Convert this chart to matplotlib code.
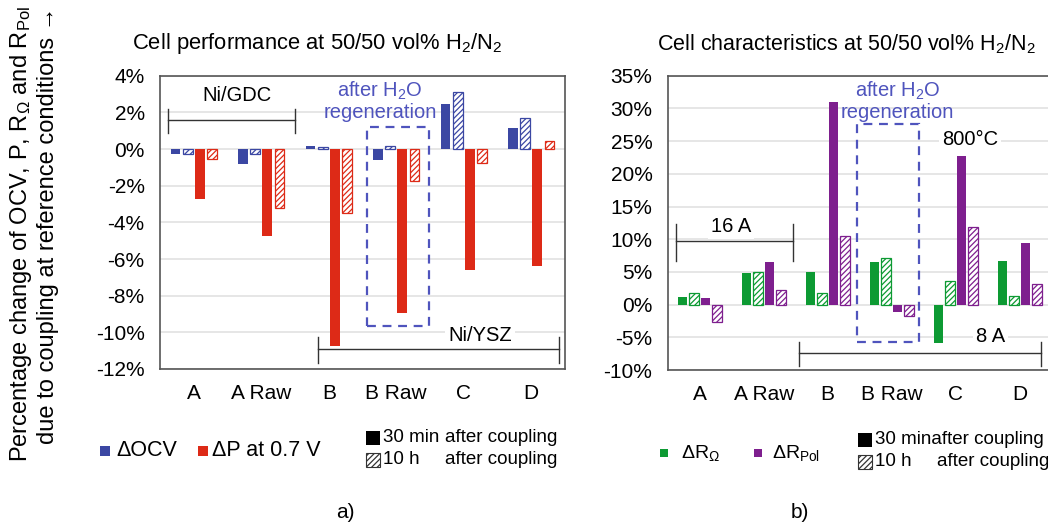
import matplotlib
matplotlib.use("Agg")
import matplotlib.pyplot as plt
from matplotlib.patches import Rectangle
import numpy as np

plt.rcParams['font.family'] = ['Liberation Sans', 'DejaVu Sans']
plt.rcParams['mathtext.fontset'] = 'custom'
plt.rcParams['mathtext.rm'] = 'Liberation Sans'
plt.rcParams['mathtext.it'] = 'Liberation Sans:italic'
plt.rcParams['mathtext.bf'] = 'Liberation Sans:bold'
plt.rcParams['hatch.linewidth'] = 0.9

# ---------------- data ----------------
categories = ["A", "A Raw", "B", "B Raw", "C", "D"]

# a) Cell performance (%)
ocv_30min = [-0.27, -0.84, 0.15, -0.58, 2.45, 1.13]
ocv_10h = [-0.27, -0.27, 0.10, 0.18, 3.09, 1.69]
p_30min = [-2.70, -4.73, -10.76, -8.95, -6.62, -6.38]
p_10h = [-0.55, -3.24, -3.49, -1.75, -0.78, 0.45]

# b) Cell characteristics (%)
rohm_30min = [1.17, 4.85, 5.00, 6.48, -5.87, 6.73]
rohm_10h = [1.80, 5.00, 1.80, 7.20, 3.62, 1.28]
rpol_30min = [1.07, 6.58, 31.0, -1.12, 22.65, 9.44]
rpol_10h = [-2.60, 2.30, 10.56, -1.79, 11.84, 3.20]

left_yticks = [4, 2, 0, -2, -4, -6, -8, -10, -12]
right_yticks = [35, 30, 25, 20, 15, 10, 5, 0, -5, -10]

BLUE = "#3b47a3"
RED = "#dd2a17"
GREEN = "#0d9a33"
PURPLE = "#7e1f8e"
ANNOT = "#4f54bd"
GRID = "#e2e2e2"
SPINE = "#555555"

W, H = 1048, 523
fig = plt.figure(figsize=(W / 100, H / 100), dpi=100)


def fx(px):
    return px / W


def fy(py):
    return 1 - py / H


def make_axes(l, t, r, b):
    return fig.add_axes([fx(l), fy(b), fx(r) - fx(l), fy(t) - fy(b)])


axL = make_axes(160, 75.7, 565, 369)
axR = make_axes(667.7, 75.7, 1051.7, 370)

x = np.arange(len(categories))
offsets = [-0.27, -0.09, 0.09, 0.27]
bw = 0.147


def draw_group(ax, series, colors):
    for (vals, hatched), off, col in zip(series, offsets, colors):
        if hatched:
            ax.bar(x + off, vals, bw, facecolor="white", edgecolor=col,
                   hatch="//////", linewidth=0.9, zorder=3)
        else:
            ax.bar(x + off, vals, bw, color=col, linewidth=0, zorder=3)


draw_group(axL, [(ocv_30min, False), (ocv_10h, True), (p_30min, False), (p_10h, True)],
           [BLUE, BLUE, RED, RED])
draw_group(axR, [(rohm_30min, False), (rohm_10h, True), (rpol_30min, False), (rpol_10h, True)],
           [GREEN, GREEN, PURPLE, PURPLE])

for ax, yt in ((axL, left_yticks), (axR, right_yticks)):
    ax.set_xlim(-0.5, 5.5)
    ax.set_ylim(min(yt), max(yt))
    ax.set_yticks(yt)
    ax.set_yticklabels([f"{v}%" for v in yt])
    ax.set_xticks(x)
    ax.set_xticklabels(categories)
    ax.tick_params(length=0, labelsize=15, pad=11)
    ax.yaxis.grid(True, color=GRID, linewidth=1.2, zorder=0)
    ax.set_axisbelow(True)
    for s in ax.spines.values():
        s.set_color(SPINE)
        s.set_linewidth(1.2)

AF = 14.5
# ---------------- annotations (a) ----------------
axL.text(0.64, 2.91, "Ni/GDC", ha="center", va="center", fontsize=AF, zorder=5)
axL.plot([-0.38, 1.5], [1.56, 1.56], color="#333333", lw=1, zorder=5)
for xv in (-0.38, 1.5):
    axL.plot([xv, xv], [2.2, 0.89], color="#333333", lw=1, zorder=5)
axL.text(2.76, 3.19, "after H$_2$O", ha="center", va="center", fontsize=AF, color=ANNOT, zorder=5)
axL.text(2.76, 1.98, "regeneration", ha="center", va="center", fontsize=AF, color=ANNOT, zorder=5)
axL.add_patch(Rectangle((2.57, -9.66), 3.49 - 2.57, 1.22 + 9.66, fill=False,
                        edgecolor=ANNOT, lw=1.6, ls=(0, (4, 3)), zorder=6))
axL.text(4.24, -10.15, "Ni/YSZ", ha="center", va="center", fontsize=AF, zorder=5,
         bbox=dict(facecolor="white", edgecolor="none", pad=2))
axL.plot([1.84, 5.41], [-10.91, -10.91], color="#333333", lw=1, zorder=5, clip_on=False)
for xv in (1.84, 5.41):
    axL.plot([xv, xv], [-10.26, -11.68], color="#333333", lw=1, zorder=5, clip_on=False)

# ---------------- annotations (b) ----------------
axR.text(0.49, 11.97, "16 A", ha="center", va="center", fontsize=AF, zorder=5,
         bbox=dict(facecolor="white", edgecolor="none", pad=2))
axR.plot([-0.37, 1.46], [9.68, 9.68], color="#333333", lw=1, zorder=5)
for xv in (-0.37, 1.46):
    axR.plot([xv, xv], [12.36, 6.6], color="#333333", lw=1, zorder=5)
axR.text(3.09, 32.7, "after H$_2$O", ha="center", va="center", fontsize=AF, color=ANNOT, zorder=5)
axR.text(3.09, 29.4, "regeneration", ha="center", va="center", fontsize=AF, color=ANNOT, zorder=5)
axR.add_patch(Rectangle((2.46, -5.7), 3.43 - 2.46, 27.68 + 5.7, fill=False,
                        edgecolor=ANNOT, lw=1.6, ls=(0, (4, 3)), zorder=6))
axR.text(4.22, 25.2, "800°C", ha="center", va="center", fontsize=AF, zorder=5,
         bbox=dict(facecolor="white", edgecolor="none", pad=2))
axR.text(4.54, -4.85, "8 A", ha="center", va="center", fontsize=AF, zorder=5,
         bbox=dict(facecolor="white", edgecolor="none", pad=2))
axR.plot([1.55, 5.34], [-7.4, -7.4], color="#333333", lw=1, zorder=5)
for xv in (1.55, 5.34):
    axR.plot([xv, xv], [-5.76, -9.33], color="#333333", lw=1, zorder=5)

# ---------------- titles ----------------
fig.text(fx(317), fy(44), "Cell performance at 50/50 vol% H$_2$/N$_2$", ha="center", va="center", fontsize=15.8)
fig.text(fx(846), fy(44), "Cell characteristics at 50/50 vol% H$_2$/N$_2$", ha="center", va="center", fontsize=15.5)

# ---------------- y label ----------------
fig.text(fx(21), fy(234), r"Percentage change of OCV, P, R$_\Omega$ and R$_{\mathrm{Pol}}$",
         rotation=90, ha="center", va="center", fontsize=17)
fig.text(fx(48), fy(225), "due to coupling at reference conditions →",
         rotation=90, ha="center", va="center", fontsize=17)


# ---------------- legends ----------------
def square(cx, cy, size, color, hatched=False):
    r = Rectangle((fx(cx - size / 2), fy(cy + size / 2)), size / W, size / H,
                  transform=fig.transFigure,
                  facecolor="white" if hatched else color,
                  edgecolor=color, hatch="//////" if hatched else None,
                  linewidth=0.8 if hatched else 0)
    fig.add_artist(r)


def ltext(px, py, s, size=13.5):
    fig.text(fx(px), fy(py), s, ha="left", va="center", fontsize=size)


square(105, 451, 10, BLUE)
ltext(116, 451, "ΔOCV", 15.5)
square(203, 451, 10, RED)
ltext(212, 451, "ΔP at 0.7 V", 15.5)
square(373, 438, 14, "black")
ltext(383, 438, "30 min")
ltext(445, 438, "after coupling")
square(373, 460, 14, "#333333", hatched=True)
ltext(383, 460, "10 h")
ltext(445, 460, "after coupling")

square(664, 453, 8, GREEN)
ltext(681, 453, r"ΔR$_\Omega$", 14)
square(758, 453, 8, PURPLE)
ltext(772, 453, r"ΔR$_{\mathrm{Pol}}$", 14)
square(865, 440, 14, "black")
ltext(875, 440, "30 minafter coupling")
square(865, 462, 14, "#333333", hatched=True)
ltext(875, 462, "10 h")
ltext(937, 462, "after coupling")

fig.text(fx(345), fy(513), "a)", ha="center", va="center", fontsize=15)
fig.text(fx(800), fy(513), "b)", ha="center", va="center", fontsize=15)

fig.savefig("out.png", dpi=100)
